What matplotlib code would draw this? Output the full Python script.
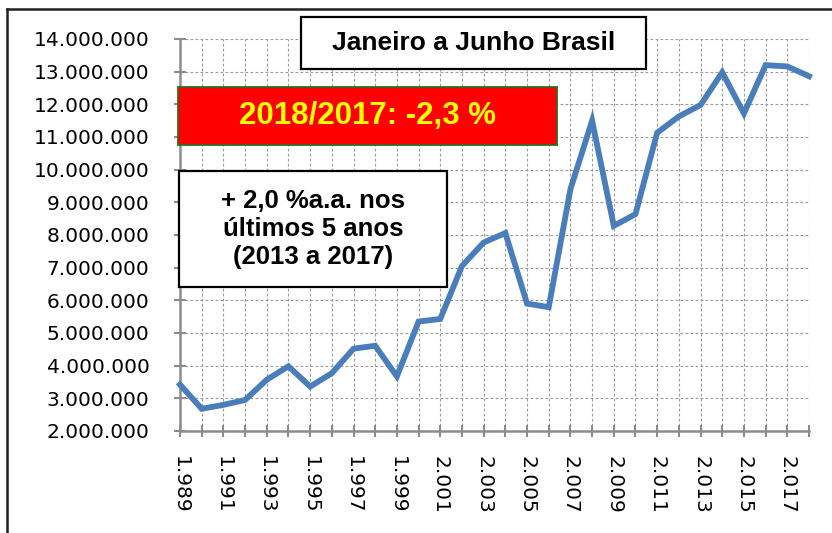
import matplotlib
matplotlib.use('Agg')
import matplotlib.pyplot as plt
from matplotlib.patches import Rectangle
from matplotlib.ticker import FuncFormatter

# Dados: janeiro a junho, Brasil
anos = [1989, 1990, 1991, 1992, 1993, 1994, 1995, 1996, 1997, 1998,
        1999, 2000, 2001, 2002, 2003, 2004, 2005, 2006, 2007, 2008,
        2009, 2010, 2011, 2012, 2013, 2014, 2015, 2016, 2017, 2018]
valores = [3420000, 2680000, 2800000, 2950000, 3570000, 3980000, 3360000, 3770000, 4520000, 4610000,
           3670000, 5350000, 5430000, 7050000, 7770000, 8060000, 5900000, 5790000, 9400000, 11500000,
           8280000, 8640000, 11130000, 11630000, 11980000, 12980000, 11720000, 13200000, 13160000, 12860000]
y_ticks = [2000000, 3000000, 4000000, 5000000, 6000000, 7000000, 8000000,
           9000000, 10000000, 11000000, 12000000, 13000000, 14000000]

titulo = 'Janeiro a Junho Brasil'
texto_var = '2018/2017: -2,3 %'
texto_cresc = '+ 2,0 %a.a. nos\núltimos 5 anos\n(2013 a 2017)'

W, H = 832, 533
fig = plt.figure(figsize=(W / 100, H / 100), dpi=100)
ax = fig.add_axes([180 / W, 1 - 431 / H, (809 - 180) / W, (431 - 39) / H])

ax.plot(anos, valores, color='#4a7ebb', linewidth=4.2, solid_joinstyle='miter', zorder=3, clip_on=False)

ax.set_xlim(anos[0], anos[-1])
ax.set_ylim(y_ticks[0], y_ticks[-1])
ax.set_yticks(y_ticks)
ax.yaxis.set_major_formatter(FuncFormatter(lambda v, p: f'{int(v):,}'.replace(',', '.')))
ax.set_xticks(anos)
ax.set_xticklabels([f'{a:,}'.replace(',', '.') if (a - anos[0]) % 2 == 0 else '' for a in anos],
                   rotation=-90)

ax.grid(True, color='#9a9a9a', linestyle=(0, (2.5, 2)), linewidth=0.8)
ax.set_axisbelow(True)
for s in ['top', 'right']:
    ax.spines[s].set_visible(False)
for s in ['left', 'bottom']:
    ax.spines[s].set_color('#8c8c8c')
    ax.spines[s].set_linewidth(1.8)
ax.tick_params(axis='both', direction='inout', length=8, width=1.5, color='#8c8c8c',
               labelsize=14.5, labelcolor='black')
ax.tick_params(axis='y', pad=18)
ax.tick_params(axis='x', pad=14)

# caixas de texto
def caixa(x0, y0, x1, y1, face, edge, lw):
    fig.patches.append(Rectangle((x0 / W, 1 - y1 / H), (x1 - x0) / W, (y1 - y0) / H,
                                 transform=fig.transFigure, facecolor=face, edgecolor=edge,
                                 linewidth=lw, zorder=5))

caixa(301, 17, 646, 69, 'white', 'black', 1.6)
fig.text(473.5 / W, 1 - 43 / H, titulo, ha='center', va='center', fontsize=19,
         fontweight='bold', family='Liberation Sans', zorder=6)

caixa(178, 87, 557, 145, '#ff0000', '#2a6e1e', 1.3)
fig.text(367.5 / W, 1 - 116 / H, texto_var, ha='center', va='center', fontsize=22.5,
         fontweight='bold', family='Liberation Sans', color='#ffff00', zorder=6)

caixa(179, 171, 447, 287, 'white', 'black', 1.6)
fig.text(313 / W, 1 - 229 / H, texto_cresc, ha='center', va='center', fontsize=18.5,
         fontweight='bold', family='Liberation Sans', linespacing=1.2, zorder=6)

# moldura do gráfico
fig.add_artist(plt.Line2D([7 / W, 7 / W], [0, 1 - 9 / H], transform=fig.transFigure,
                          color='#202020', linewidth=1.8))
fig.add_artist(plt.Line2D([7 / W, 1], [1 - 9 / H, 1 - 9 / H], transform=fig.transFigure,
                          color='#202020', linewidth=1.8))

fig.savefig('out.png', dpi=100)
